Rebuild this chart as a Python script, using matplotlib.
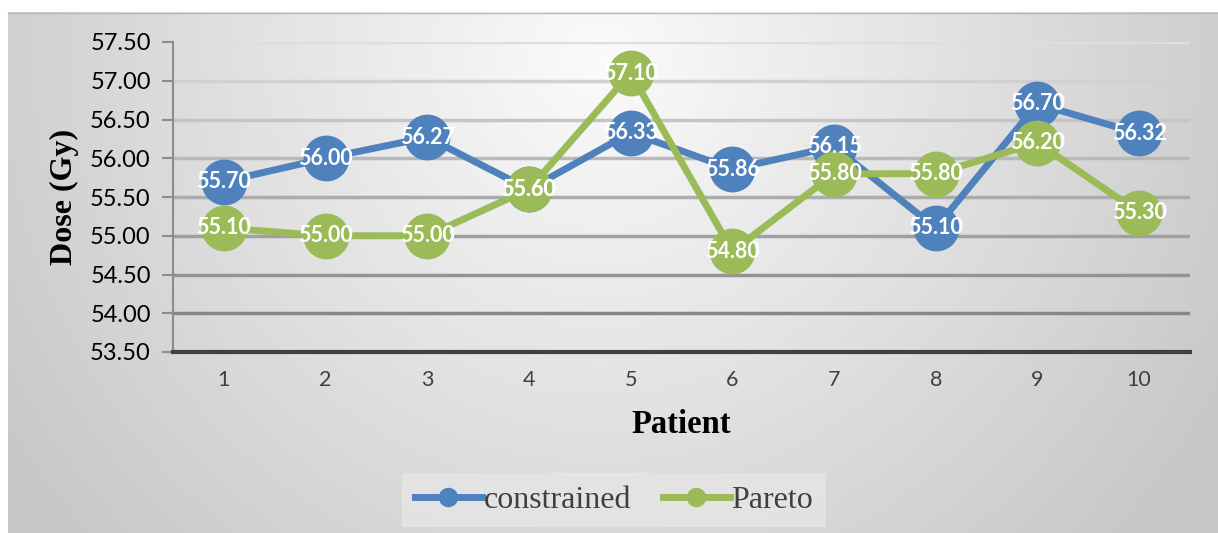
import numpy as np
import matplotlib.pyplot as plt
from matplotlib.lines import Line2D

patients = [1, 2, 3, 4, 5, 6, 7, 8, 9, 10]
constrained = [55.70, 56.00, 56.27, 55.60, 56.33, 55.86, 56.15, 55.10, 56.70, 56.32]
pareto = [55.10, 55.00, 55.00, 55.60, 57.10, 54.80, 55.80, 55.80, 56.20, 55.30]
yticks = [53.5, 54.0, 54.5, 55.0, 55.5, 56.0, 56.5, 57.0, 57.5]

blue = "#4F81BD"
green = "#9BBB59"

W, H = 1218, 533
fig = plt.figure(figsize=(W / 100, H / 100), dpi=100)

# radial gray background of the chart frame
bg = fig.add_axes([0, 0, 1, 1])
bg.set_xlim(0, W)
bg.set_ylim(H, 0)
bg.axis("off")
xx, yy = np.meshgrid(np.arange(8, W), np.arange(12, H))
r = np.sqrt((xx - 600) ** 2 + (yy - 60) ** 2)
val = 251 - 48 * np.clip(r / 666, 0, 1.1)
img = np.dstack([val, val, val]) / 255
bg.imshow(img, extent=[8, W, H, 12], aspect="auto", interpolation="bilinear")
bg.plot([8, W], [12.5, 12.5], color="#b8b8b8", lw=1)

ax = fig.add_axes([173 / W, 1 - 352 / H, (1190 - 173) / W, (352 - 42) / H])
ax.patch.set_alpha(0)
ax.set_xlim(0.5, 10.5)
ax.set_ylim(53.5, 57.5)

# gridlines darker toward the bottom
for t in yticks[1:]:
    f = (57.5 - t) / 3.5
    c = 0.87 - 0.34 * f
    ax.axhline(t, color=(c, c, c), lw=2.5, zorder=1)

ax.plot(patients, constrained, color=blue, lw=5, marker="o", ms=32, zorder=3)
ax.plot(patients, pareto, color=green, lw=5, marker="o", ms=32, zorder=4)

for x, y in zip(patients, constrained):
    ax.text(x, y, "%.2f" % y, color="white", fontsize=15.5, fontweight="bold",
            family="Lato", ha="center", va="center", zorder=5)
for x, y in zip(patients, pareto):
    ax.text(x, y, "%.2f" % y, color="white", fontsize=15.5, fontweight="bold",
            family="Lato", ha="center", va="center", zorder=6)

ax.set_yticks(yticks)
ax.set_yticklabels(["%.2f" % t for t in yticks], fontsize=17, family="Lato")
ax.set_xticks(patients)
ax.set_xticklabels([str(p) for p in patients], fontsize=15.5, family="Lato", color="#404040")
ax.tick_params(axis="x", length=0, pad=13)
ax.tick_params(axis="y", length=8, width=1.5, color="#8c8c8c", pad=8)

for s in ["top", "right"]:
    ax.spines[s].set_visible(False)
ax.spines["left"].set_color("#8c8c8c")
ax.spines["left"].set_linewidth(1.5)
ax.spines["bottom"].set_color("#404040")
ax.spines["bottom"].set_linewidth(3)

ax.set_ylabel("Dose (Gy)", fontsize=23, fontweight="bold", family="Liberation Serif", labelpad=8)
ax.set_xlabel("Patient", fontsize=23.5, fontweight="bold", family="Liberation Serif", labelpad=14)

handles = [
    Line2D([], [], color=blue, lw=5, marker="o", ms=13),
    Line2D([], [], color=green, lw=5, marker="o", ms=13),
]
leg = fig.legend(handles, ["constrained", "Pareto"], loc="center",
                 bbox_to_anchor=(614 / W, 1 - 500 / H), ncol=2, frameon=True,
                 prop={"family": "Liberation Serif", "size": 23},
                 handlelength=2.1, handletextpad=0.05, columnspacing=1.0,
                 borderpad=0.4, fancybox=False)
leg.get_frame().set_facecolor("#e6e6e6")
leg.get_frame().set_edgecolor("none")
for t in leg.get_texts():
    t.set_color("#404040")

fig.savefig("out.png", dpi=100)
